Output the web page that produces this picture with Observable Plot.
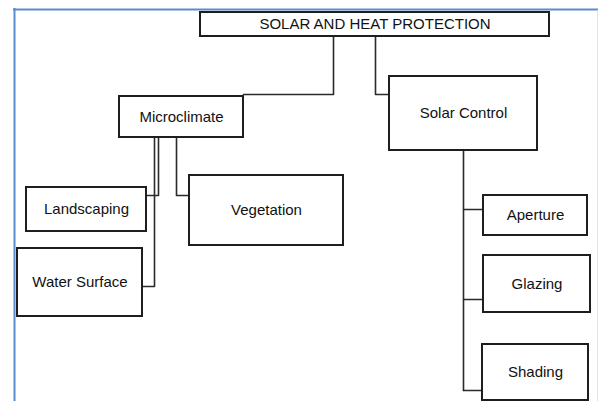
<!DOCTYPE html>
<html>
<head>
<meta charset="utf-8">
<script src="https://cdn.jsdelivr.net/npm/d3@7"></script>
<script src="https://cdn.jsdelivr.net/npm/@observablehq/plot@0.6"></script>
<style>
  html, body { margin: 0; padding: 0; background: #fff; }
  #chart svg { display: block; }
</style>
</head>
<body>
<div id="chart"></div>
<script>
// Diagram nodes (labels) and their box bounds in diagram units
const labels = ["SOLAR AND HEAT PROTECTION", "Microclimate", "Solar Control", "Landscaping", "Vegetation", "Water Surface", "Aperture", "Glazing", "Shading"];
const boxLeft   = [200, 119, 389, 26, 189, 17, 483, 483, 482];
const boxRight  = [549, 243, 537, 146, 343, 142, 587, 590, 588];
const boxTop    = [12, 96, 76, 187, 175, 248, 195, 255, 344];
const boxBottom = [36, 137, 150, 231, 245, 316, 235, 312, 400];

// Connector polylines (elbow links between parent and child)
const connectors = [
  {id: "top-micro", pts: [[333, 36], [333, 94], [243, 94]]},
  {id: "top-solar", pts: [[375, 36], [375, 94], [389, 94]]},
  {id: "micro-land", pts: [[158, 137], [158, 195], [146, 195]]},
  {id: "micro-water", pts: [[154, 137], [154, 286], [142, 286]]},
  {id: "micro-veg", pts: [[176, 137], [176, 195], [189, 195]]},
  {id: "solar-trunk", pts: [[463, 150], [463, 390]]},
  {id: "solar-ap", pts: [[463, 209], [483, 209]]},
  {id: "solar-gl", pts: [[463, 299], [483, 299]]},
  {id: "solar-sh", pts: [[463, 390], [482, 390]]}
];

const boxes = labels.map((label, i) => ({
  label, x1: boxLeft[i], x2: boxRight[i], y1: boxTop[i], y2: boxBottom[i],
  cx: (boxLeft[i] + boxRight[i]) / 2, cy: (boxTop[i] + boxBottom[i]) / 2
}));
const linePts = connectors.flatMap(c => c.pts.map(([x, y]) => ({id: c.id, x, y})));

const chart = Plot.plot({
  width: 598,
  height: 401,
  margin: 0,
  x: {domain: [0, 598], range: [0, 598], axis: null},
  y: {domain: [0, 401], range: [0, 401], axis: null},
  style: {fontFamily: "Arial, 'Liberation Sans', sans-serif", background: "#fff", overflow: "visible"},
  marks: [
    // page frame
    Plot.ruleY([9], {x1: 13, x2: 598, stroke: "#5b8ccf", strokeWidth: 2}),
    Plot.ruleX([14], {y1: 8, y2: 401, stroke: "#5b8ccf", strokeWidth: 2}),
    Plot.ruleX([597], {y1: 10, y2: 401, stroke: "#e3e3e3", strokeWidth: 1}),
    Plot.line(linePts, {x: "x", y: "y", z: "id", stroke: "#2a2a2a", strokeWidth: 1.6, curve: "linear"}),
    Plot.rect(boxes, {x1: "x1", x2: "x2", y1: "y1", y2: "y2", fill: "#fff", stroke: "#1e1e1e", strokeWidth: 2}),
    Plot.text(boxes, {x: "cx", y: "cy", text: "label", fontSize: 15, fill: "#111", textAnchor: "middle", lineAnchor: "middle"})
  ]
});
document.getElementById("chart").appendChild(chart);
</script>
</body>
</html>
